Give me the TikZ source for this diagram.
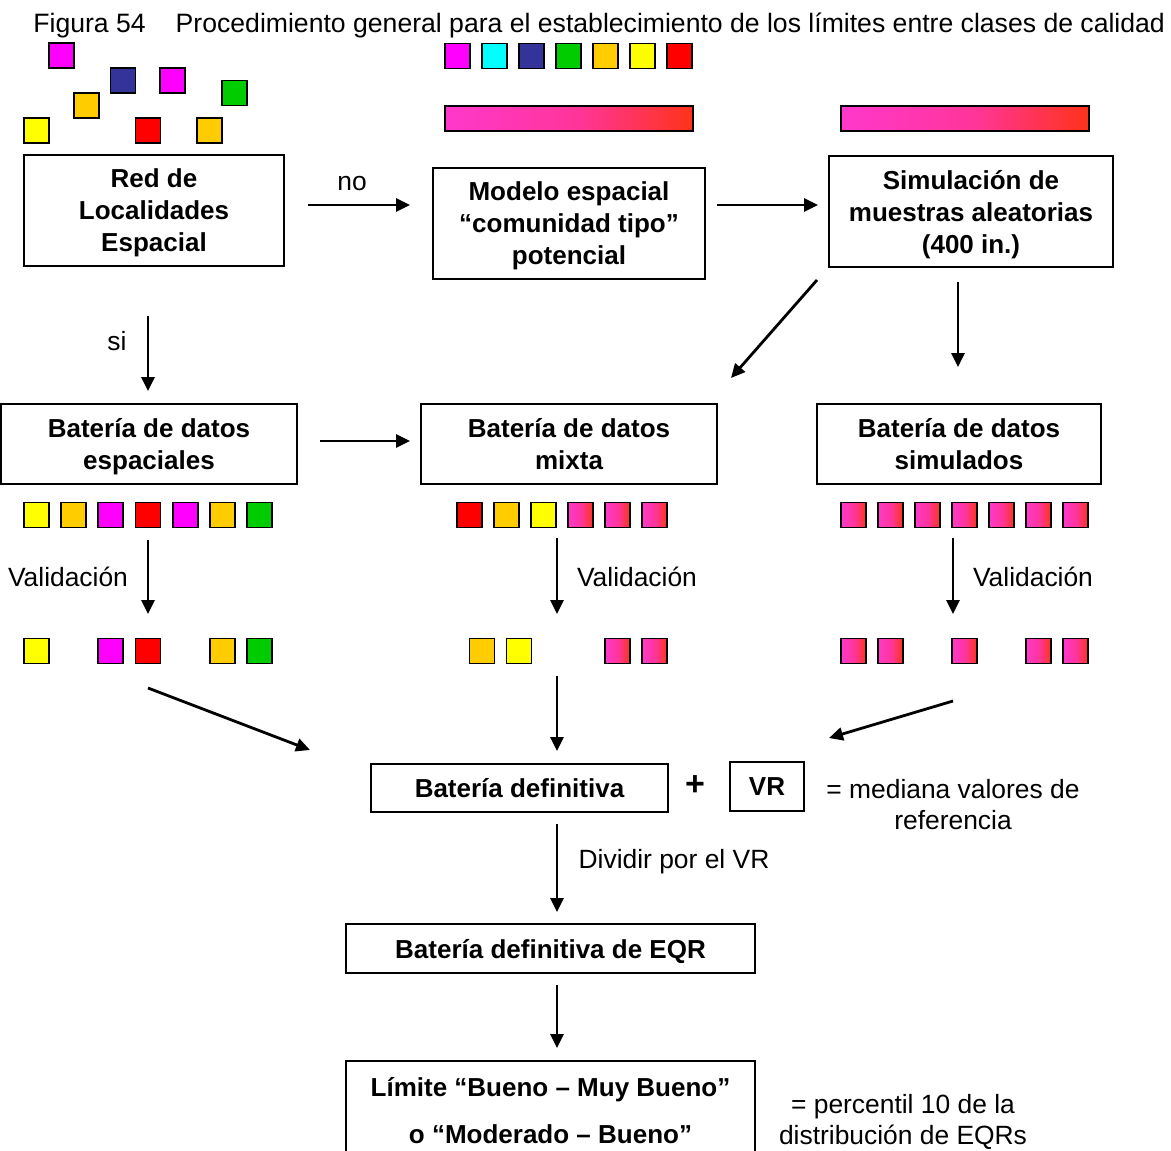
\documentclass[tikz,border=0pt]{standalone}
\usepackage{fontspec}
\setmainfont{Liberation Sans}
\usetikzlibrary{arrows.meta,positioning}
\definecolor{cmag}{HTML}{FF00FF}
\definecolor{ccian}{HTML}{00FFFF}
\definecolor{cazul}{HTML}{333399}
\definecolor{cverde}{HTML}{00CC00}
\definecolor{cnaranja}{HTML}{FFCC00}
\definecolor{camar}{HTML}{FFFF00}
\definecolor{crojo}{HTML}{FF0000}
\definecolor{rosa}{HTML}{FF38CC}
\definecolor{rosamed}{HTML}{FF3599}
\definecolor{rojizo}{HTML}{FF3318}
\pgfdeclarehorizontalshading{degradado}{100bp}{color(0bp)=(rosa); color(25bp)=(rosa); color(52bp)=(rosamed); color(75bp)=(rojizo); color(100bp)=(rojizo)}

\begin{document}
\begin{tikzpicture}[x=0.5pt,y=-0.5pt,
  caja/.style={draw, line width=0.9pt, align=center, inner sep=0pt, text depth=0pt,
    font=\fontsize{13}{16}\selectfont\bfseries},
  cuad/.style={draw, line width=0.8pt, minimum size=12.5pt, inner sep=0pt, fill=#1},
  cuadg/.style={draw, line width=0.8pt, minimum size=12.5pt, inner sep=0pt, shading=degradado},
  barra/.style={draw, line width=0.9pt, minimum width=124pt, minimum height=12.5pt,
    inner sep=0pt, shading=degradado},
  flecha/.style={line width=1.4pt, -{Triangle[length=7pt,width=6.5pt]}},
  etiq/.style={inner sep=0pt, align=center, font=\fontsize{13.2}{15.5}\selectfont}]
  \path[use as bounding box, clip] (0,0) rectangle (1171,1150);

  % titulo
  \node[etiq, anchor=west, font=\fontsize{13.3}{15.5}\selectfont] (titulo) at (33,25)
    {Figura 54\hspace{15pt}Procedimiento general para el establecimiento de los límites entre clases de calidad};

  % localidades dispersas
  \node[cuad=cmag] (p1) at (61.5,55.5) {};
  \node[cuad=cazul] (p2) at (123,80.5) {};
  \node[cuad=cmag] (p3) at (172.5,80.5) {};
  \node[cuad=cverde] (p4) at (234.5,93) {};
  \node[cuad=cnaranja] (p5) at (86.5,105.5) {};
  \node[cuad=camar] (p6) at (36.5,130.5) {};
  \node[cuad=crojo] (p7) at (148,130.5) {};
  \node[cuad=cnaranja] (p8) at (209.5,130.5) {};

  % tipos de comunidad
  \foreach \x/\c [count=\i] in {457.5/cmag,494.5/ccian,531.5/cazul,568.5/cverde,605.5/cnaranja,642.5/camar,679.5/crojo}
    \node[cuad=\c] (t\i) at (\x,56) {};
  \node[barra] (barra1) at (569,118.5) {};
  \node[barra] (barra2) at (965,118.5) {};

  % cajas
  \node[caja, minimum width=130pt, minimum height=55.5pt] (red) at (154,210.5) {Red de\\Localidades\\Espacial};
  \node[caja, minimum width=136pt, minimum height=55.5pt] (modelo) at (569,223.5) {Modelo espacial\\“comunidad tipo”\\potencial};
  \node[caja, minimum width=142pt, minimum height=55.5pt] (simul) at (971,211.5) {Simulación de\\muestras aleatorias\\(400 in.)};
  \node[caja, minimum width=148pt, minimum height=40pt] (bespa) at (149,444) {Batería de datos\\espaciales};
  \node[caja, minimum width=148pt, minimum height=40pt] (bmixta) at (569,444) {Batería de datos\\mixta};
  \node[caja, minimum width=142pt, minimum height=40pt] (bsimu) at (959,444) {Batería de datos\\simulados};
  \node[caja, minimum width=148.5pt, minimum height=24pt] (bdef) at (519.5,788) {Batería definitiva};
  \node[caja, minimum width=37pt, minimum height=24.5pt] (vr) at (767,786.5) {VR};
  \node[caja, minimum width=204.5pt, minimum height=24.5pt] (beqr) at (550.5,948.5) {Batería definitiva de EQR};
  \node[caja, minimum width=204.5pt, minimum height=49pt,
    font=\fontsize{13}{23.5}\selectfont\bfseries] (limite) at (550.5,1110)
    {Límite “Bueno – Muy Bueno”\\o “Moderado – Bueno”};

  % filas de datos
  \foreach \x/\c [count=\i] in {36.5/camar,73.5/cnaranja,110.5/cmag,148/crojo,185.5/cmag,222.5/cnaranja,259.5/cverde}
    \node[cuad=\c] (e\i) at (\x,515) {};
  \foreach \x/\c [count=\i] in {36.5/camar,110.5/cmag,148/crojo,222.5/cnaranja,259.5/cverde}
    \node[cuad=\c] (ev\i) at (\x,651) {};
  \foreach \x/\c [count=\i] in {469.5/crojo,506.5/cnaranja,543.5/camar}
    \node[cuad=\c] (m\i) at (\x,515) {};
  \foreach \x [count=\i] in {580.5,617.5,654.5}
    \node[cuadg] (mg\i) at (\x,515) {};
  \node[cuad=cnaranja] (mv1) at (482,651) {};
  \node[cuad=camar] (mv2) at (519,651) {};
  \node[cuadg] (mv3) at (617.5,651) {};
  \node[cuadg] (mv4) at (654.5,651) {};
  \foreach \x [count=\i] in {853.5,890.5,927.5,964.5,1001.5,1038.5,1075.5}
    \node[cuadg] (s\i) at (\x,515) {};
  \foreach \x [count=\i] in {853.5,890.5,964.5,1038.5,1075.5}
    \node[cuadg] (sv\i) at (\x,651) {};

  % extremos de flechas
  \coordinate (no1) at (308,205);  \coordinate (no2) at (410,205);
  \coordinate (ms1) at (717,205);  \coordinate (ms2) at (818,205);
  \coordinate (si1) at (148,316);  \coordinate (si2) at (148,391);
  \coordinate (em1) at (320,441);  \coordinate (em2) at (410,441);
  \coordinate (sd1) at (817,280);  \coordinate (sd2) at (731,378);
  \coordinate (ss1) at (958,282);  \coordinate (ss2) at (958,367);
  \coordinate (va1) at (148,540);  \coordinate (va2) at (148,614);
  \coordinate (vb1) at (557,538);  \coordinate (vb2) at (557,614);
  \coordinate (vc1) at (953,538);  \coordinate (vc2) at (953,614);
  \coordinate (da1) at (148,688);  \coordinate (da2) at (310,750);
  \coordinate (db1) at (557,676);  \coordinate (db2) at (557,751);
  \coordinate (dc1) at (953,701);  \coordinate (dc2) at (829,738);
  \coordinate (eq1) at (557,824);  \coordinate (eq2) at (557,912);
  \coordinate (li1) at (557,985);  \coordinate (li2) at (557,1048);

  \draw[flecha] (no1) -- (no2);
  \draw[flecha] (ms1) -- (ms2);
  \draw[flecha] (si1) -- (si2);
  \draw[flecha] (em1) -- (em2);
  \draw[flecha] (sd1) -- (sd2);
  \draw[flecha] (ss1) -- (ss2);
  \draw[flecha] (va1) -- (va2);
  \draw[flecha] (vb1) -- (vb2);
  \draw[flecha] (vc1) -- (vc2);
  \draw[flecha] (da1) -- (da2);
  \draw[flecha] (db1) -- (db2);
  \draw[flecha] (dc1) -- (dc2);
  \draw[flecha] (eq1) -- (eq2);
  \draw[flecha] (li1) -- (li2);

  % etiquetas
  \node[etiq] (lno) at (352,184) {no};
  \node[etiq] (lsi) at (117,341) {si};
  \node[etiq] (lva) at (68,577) {Validación};
  \node[etiq] (lvb) at (637,577) {Validación};
  \node[etiq] (lvc) at (1033,577) {Validación};
  \node[etiq] (ldiv) at (674,862) {Dividir por el VR};
  \node[etiq, font=\fontsize{17}{17}\selectfont\bfseries] (mas) at (695,786) {+};
  \node[etiq] (lmed) at (953,804.5) {= mediana valores de\\referencia};
  \node[etiq] (lper) at (903,1121.5) {= percentil 10 de la\\distribución de EQRs};
\end{tikzpicture}
\end{document}
